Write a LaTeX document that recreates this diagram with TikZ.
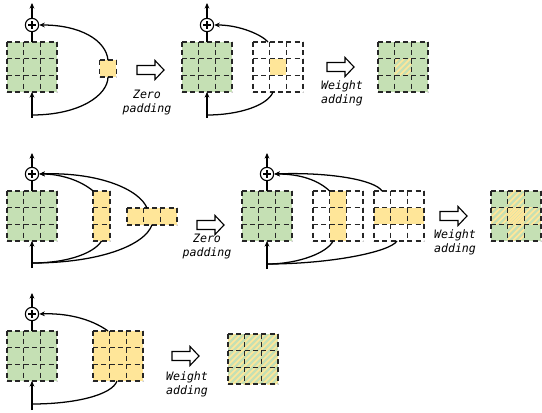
\documentclass[tikz,border=0pt]{standalone}
\usepackage{fontspec}
\newfontfamily\monoit{DejaVu Sans Mono}
\usetikzlibrary{arrows.meta,calc}
\definecolor{gfill}{HTML}{C5E0B4}
\definecolor{yfill}{HTML}{FFE699}
\definecolor{gdash}{HTML}{262626}
\tikzset{
  gline/.style={draw=gdash, line width=1.15pt, dash pattern=on 3.75pt off 2.5pt},
  wire/.style={line width=0.95pt, black},
  arr/.style={wire, -{Stealth[length=4.2pt,width=3.6pt]}},
  boxg/.style={inner sep=0pt, outer sep=0pt, minimum width=37.5pt, minimum height=37.5pt},
  cell/.style={inner sep=0pt, outer sep=0pt, minimum width=12.5pt, minimum height=12.5pt},
  colbox/.style={inner sep=0pt, outer sep=0pt, minimum width=12.5pt, minimum height=37.5pt},
  rowbox/.style={inner sep=0pt, outer sep=0pt, minimum width=37.5pt, minimum height=12.5pt},
  hatchline/.style={draw=yfill, line width=1.3pt},
  psum/.style={circle, draw, line width=0.85pt, minimum size=10pt, inner sep=0pt, fill=white,
    path picture={\draw[line width=0.85pt] (path picture bounding box.center) ++(-3pt,0) -- ++(6pt,0)
      (path picture bounding box.center) ++(0,-3pt) -- ++(0,6pt);}},
  lbl/.style={font=\monoit\itshape\fontsize{8.7}{10.7}\selectfont, align=center, inner sep=0pt},
  barrow/.style={draw, line width=0.85pt, fill=white},
}
\newcommand\gridlines[4]{%
  \foreach \i in {0,...,#3}{\draw[gline] ({#1+\i*16.6667},#2) -- ({#1+\i*16.6667},{#2+#4*16.6667});}
  \foreach \j in {0,...,#4}{\draw[gline] (#1,{#2+\j*16.6667}) -- ({#1+#3*16.6667},{#2+\j*16.6667});}
}
\newcommand\hatchrect[4]{%
  \begin{scope}
    \clip (#1,#2) rectangle ++(#3,#4);
    \foreach \k in {-60,-54,...,60}{\draw[hatchline] ({#1+\k},{#2+#4+5}) -- ++({#4+10},{-#4-10});}
  \end{scope}
}
\newcommand\blockarrow[2]{%
  \draw[barrow] (#1,{#2-4.5}) -- ({#1+18},{#2-4.5}) -- ({#1+18},{#2-9.5}) -- ({#1+27},#2)
    -- ({#1+18},{#2+9.5}) -- ({#1+18},{#2+4.5}) -- (#1,{#2+4.5}) -- cycle;
}
\begin{document}
\begin{tikzpicture}[x=0.75pt,y=-0.75pt]
\useasboundingbox (0,0) rectangle (542,413);
% ===================== Row 1 =====================
\node[boxg, fill=gfill] (g1) at (32,67) {};
\node[cell, fill=yfill] (y1) at (108,68.5) {};
\gridlines{7}{42}{3}{3}
\gridlines{99.67}{60.17}{1}{1}
\node[psum] (c1) at (32,25) {};
\coordinate (o1) at (32,3);
\coordinate (i1) at (32,118);
\coordinate (b1) at (32,115);
\draw[wire] (g1.north) -- (c1.south);
\draw[arr] (c1.north) -- (o1);
\draw[arr] (i1) -- (g1.south);
\draw[wire] (b1) .. controls (80,115) and (108,95) .. (y1.south);
\draw[arr] (y1.north) .. controls (106,40) and (80,25) .. (c1.east);
\blockarrow{137}{70}
\node[lbl] (t1) at (147,102.5) {Zero\\padding};
% second
\node[boxg, fill=gfill] (g2) at (207,67) {};
\node[boxg, fill=white] (w1) at (278,67) {};
\node[cell, fill=yfill] (w1c) at (278,67) {};
\gridlines{182}{42}{3}{3}
\gridlines{253}{42}{3}{3}
\node[psum] (c2) at (207,25) {};
\coordinate (o2) at (207,3);
\coordinate (i2) at (207,118);
\coordinate (b2) at (207,115);
\coordinate (w1t) at (268,42);
\coordinate (w1b) at (273,92);
\draw[wire] (g2.north) -- (c2.south);
\draw[arr] (c2.north) -- (o2);
\draw[arr] (i2) -- (g2.south);
\draw[wire] (b2) .. controls (240,115) and (268,105) .. (w1b);
\draw[arr] (w1t) .. controls (262,35) and (240,25) .. (c2.east);
\blockarrow{327}{67}
\node[lbl] (t2) at (342,93) {Weight\\adding};
\node[boxg, fill=gfill] (r1) at (403,67) {};
\hatchrect{394.67}{58.67}{16.67}{16.67}
\gridlines{378}{42}{3}{3}
% ===================== Row 2 =====================
\node[boxg, fill=gfill] (g3) at (32,216) {};
\node[colbox, fill=yfill] (v3) at (101.5,216) {};
\node[rowbox, fill=yfill] (h3) at (152,216.5) {};
\gridlines{7}{191}{3}{3}
\gridlines{93.17}{191}{1}{3}
\gridlines{127}{208.17}{3}{1}
\node[psum] (c3) at (32,174) {};
\coordinate (o3) at (32,153);
\coordinate (i3) at (32,268);
\coordinate (b3) at (32,263);
\coordinate (h3t) at (147,208.17);
\draw[wire] (g3.north) -- (c3.south);
\draw[arr] (c3.north) -- (o3);
\draw[arr] (i3) -- (g3.south);
\draw[arr] (v3.north west) .. controls (80,180) and (60,174) .. (c3.east);
\draw[arr] (h3t) .. controls (140,190) and (100,172) .. (c3.east);
\draw[wire] (b3) .. controls (70,263) and (95,252) .. (v3.south);
\draw[wire] (b3) .. controls (100,263) and (145,245) .. (h3.south);
\blockarrow{197}{225}
\node[lbl] (t3) at (207,246.5) {Zero\\padding};
% second
\node[boxg, fill=gfill] (g4) at (267,216) {};
\node[boxg, fill=white] (w2) at (338,216) {};
\node[colbox, fill=yfill] (w2c) at (338,216) {};
\node[boxg, fill=white] (w3) at (399,216) {};
\node[rowbox, fill=yfill] (w3c) at (399,216) {};
\gridlines{242}{191}{3}{3}
\gridlines{313}{191}{3}{3}
\gridlines{374}{191}{3}{3}
\node[psum] (c4) at (267,174) {};
\coordinate (o4) at (267,153);
\coordinate (i4) at (267,269);
\coordinate (b4) at (267,264);
\coordinate (w3t) at (382,191);
\coordinate (w2bb) at (333,241);
\coordinate (w3bb) at (397,241);
\draw[wire] (g4.north) -- (c4.south);
\draw[arr] (c4.north) -- (o4);
\draw[arr] (i4) -- (g4.south);
\draw[arr] (w2c.north west) .. controls (318,180) and (300,174) .. (c4.east);
\draw[arr] (w3t) .. controls (375,180) and (330,172) .. (c4.east);
\draw[wire] (b4) .. controls (300,264) and (328,252) .. (w2bb);
\draw[wire] (b4) .. controls (330,264) and (390,252) .. (w3bb);
\blockarrow{440}{216}
\node[lbl] (t4) at (455,242.5) {Weight\\adding};
\node[boxg, fill=gfill] (r2) at (516,216) {};
\hatchrect{507.67}{191}{16.67}{50}
\hatchrect{491}{207.67}{50}{16.67}
\gridlines{491}{191}{3}{3}
% ===================== Row 3 =====================
\node[boxg, fill=gfill] (g5) at (32,356) {};
\node[boxg, fill=yfill] (y5) at (118,356) {};
\gridlines{7}{331}{3}{3}
\gridlines{93}{331}{3}{3}
\node[psum] (c5) at (32,314) {};
\coordinate (o5) at (32,293);
\coordinate (i5) at (32,410);
\coordinate (b5) at (32,404);
\coordinate (y5t) at (108,331);
\coordinate (y5b) at (117,381);
\draw[wire] (g5.north) -- (c5.south);
\draw[arr] (c5.north) -- (o5);
\draw[arr] (i5) -- (g5.south);
\draw[arr] (y5t) .. controls (90,318) and (65,313) .. (c5.east);
\draw[wire] (b5) .. controls (75,404) and (112,395) .. (y5b);
\blockarrow{172}{356}
\node[lbl] (t5) at (187,384.5) {Weight\\adding};
\node[boxg, fill=gfill] (r3) at (253,359) {};
\hatchrect{228}{334}{50}{50}
\gridlines{228}{334}{3}{3}
\end{tikzpicture}
\end{document}
